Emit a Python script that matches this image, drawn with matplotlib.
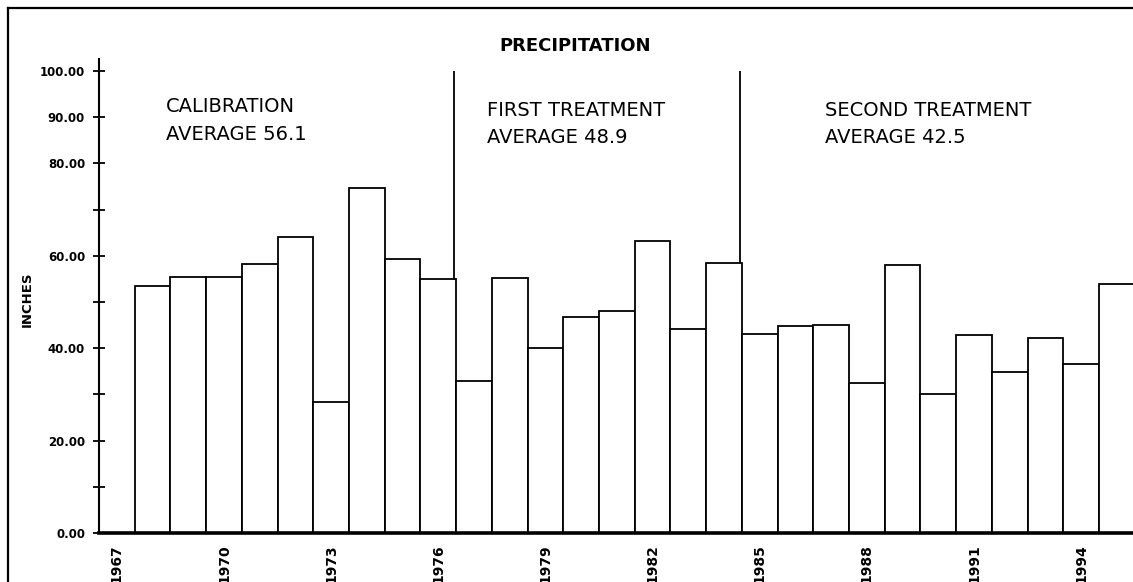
import numpy as np
import matplotlib
matplotlib.use("Agg")
import matplotlib.pyplot as plt
from matplotlib.lines import Line2D

# precipitation per year (inches)
years = [1968, 1969, 1970, 1971, 1972, 1973, 1974, 1975, 1976,
         1977, 1978, 1979, 1980, 1981, 1982, 1983, 1984,
         1985, 1986, 1987, 1988, 1989, 1990, 1991, 1992, 1993, 1994, 1995]
precip = [53.4, 55.5, 55.5, 58.3, 64.0, 28.4, 74.6, 59.2, 55.0,
          33.0, 55.1, 40.0, 46.8, 48.0, 63.3, 44.2, 58.4,
          43.0, 44.7, 45.0, 32.5, 58.0, 30.0, 42.9, 34.9, 42.1, 36.6, 54.0]

xtick_years = [1967, 1970, 1973, 1976, 1979, 1982, 1985, 1988, 1991, 1994]
ytick_vals = [0, 10, 20, 30, 40, 50, 60, 70, 80, 90, 100]
ytick_shown = [0, 20, 40, 60, 80, 90, 100]

# period boundaries (after 1976 and after 1984)
breaks = [1976.45, 1984.45]
break_tops = [55.0, 58.4]

periods = [("CALIBRATION", "AVERAGE 56.1"),
           ("FIRST TREATMENT", "AVERAGE 48.9"),
           ("SECOND TREATMENT", "AVERAGE 42.5")]

W, H = 1133, 582
fig = plt.figure(figsize=(W / 100, H / 100), dpi=100)
ax = fig.add_axes([99 / W, 1 - 533 / H, (W - 99) / W, (533 - 71) / H])

ax.bar(years, precip, width=1.0, color="white", edgecolor="black",
       linewidth=1.3, zorder=2)
ax.vlines(breaks, break_tops, 100, color="black", linewidth=1.3, zorder=3)

ax.set_xlim(1966.5, 1995.45)
ax.set_ylim(0, 100)

ax.set_xticks(xtick_years)
ax.set_xticklabels([str(y) for y in xtick_years], rotation=90,
                   fontsize=10, fontweight="bold", va="top")
ax.tick_params(axis="x", length=0, pad=8)

ax.set_yticks(ytick_vals)
ax.set_yticklabels([f"{v:.2f}" if v in ytick_shown else "" for v in ytick_vals],
                   fontsize=8.5, fontweight="bold")
ax.tick_params(axis="y", direction="inout", length=8, width=1.3, pad=6)

for s in ["top", "right"]:
    ax.spines[s].set_visible(False)
ax.spines["bottom"].set_linewidth(2.6)
ax.spines["left"].set_linewidth(1.5)
ax.spines["left"].set_bounds(0, 102.5)

# title, y label and period notes
fig.text(575 / W, 1 - 46 / H, "PRECIPITATION", ha="center", va="center",
         fontsize=13, fontweight="bold")
fig.text(27 / W, 1 - 299 / H, "INCHES", ha="center", va="center",
         rotation=90, fontsize=9.5, fontweight="bold")

note_x = [166, 487, 825]
note_y = [107, 110, 110]
for (l1, l2), x, y in zip(periods, note_x, note_y):
    fig.text(x / W, 1 - y / H, l1, ha="left", va="center", fontsize=14)
    fig.text(x / W, 1 - (y + 27) / H, l2, ha="left", va="center", fontsize=14)

# outer frame (left and top edges visible)
fig.add_artist(Line2D([8 / W, 8 / W], [0, 1 - 8 / H], color="black",
                      linewidth=1.6, transform=fig.transFigure))
fig.add_artist(Line2D([8 / W, 1], [1 - 8 / H, 1 - 8 / H], color="black",
                      linewidth=1.6, transform=fig.transFigure))

fig.savefig("out.png", dpi=100)
